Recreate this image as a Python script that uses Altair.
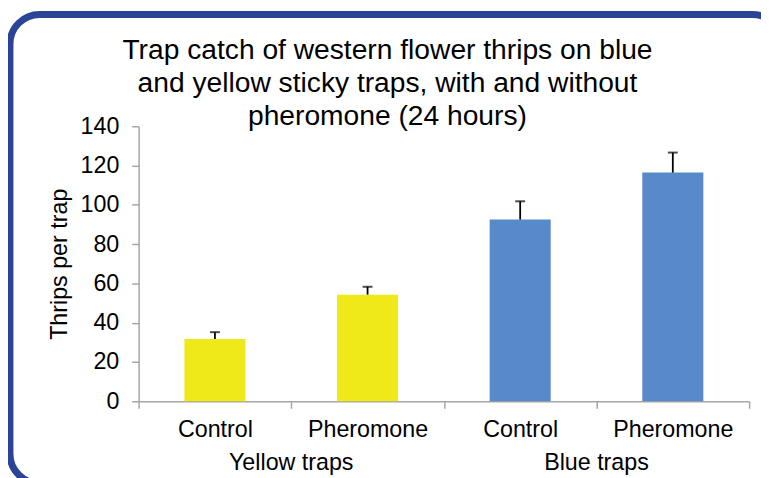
import altair as alt
import pandas as pd

# ---- data ----
groups = ["Yellow traps", "Yellow traps", "Blue traps", "Blue traps"]
treatments = ["Control", "Pheromone", "Control", "Pheromone"]
means = [31.7, 54.3, 92.5, 116.4]
errors = [3.5, 4.0, 9.3, 10.2]

group_names = ["Yellow traps", "Blue traps"]
group_colors = ["#F0E91A", "#5889C8"]

title_lines = [
    "Trap catch of western flower thrips on blue",
    "and yellow sticky traps, with and without",
    "pheromone (24 hours)",
]
y_title = "Thrips per trap"
y_ticks = [0, 20, 40, 60, 80, 100, 120, 140]

keys = [f"{g}|{t}" for g, t in zip(groups, treatments)]
df = pd.DataFrame({"group": groups, "treatment": treatments, "key": keys,
                   "mean": means, "err": errors})
df["hi"] = df["mean"] + df["err"]

grp_df = pd.DataFrame({
    "group": group_names,
    "key": [k for k, t in zip(keys, treatments) if t == "Pheromone"],
})

FONT = "Liberation Sans"
AXIS_GRAY = "#A6A6A6"
W, H = 617, 278

xscale = alt.Scale(domain=keys, paddingInner=0, paddingOuter=0)
yscale = alt.Scale(domain=[0, 140], nice=False, zero=True)

x_axis = alt.Axis(
    tickBand="extent", labelExpr="split(datum.label, '|')[1]",
    labelAngle=0, labelFont=FONT, labelFontSize=23.5, labelColor="black",
    labelPadding=10, tickSize=7, tickColor=AXIS_GRAY, domainColor=AXIS_GRAY,
    tickWidth=1.5, domainWidth=1.5, labelOverlap=False,
)
y_axis = alt.Axis(
    values=y_ticks, tickCount=8, grid=False, labelFont=FONT, labelFontSize=23.5,
    labelColor="black", labelPadding=13, tickSize=7, tickColor=AXIS_GRAY,
    domainColor=AXIS_GRAY, tickWidth=1.5, domainWidth=1.5, labelOverlap=False,
    titleFont=FONT, titleFontSize=23.5, titleFontWeight="normal",
    titleColor="black", titlePadding=9,
)

def X(**kw):
    return alt.X("key:N", scale=xscale, sort=None, title=None, axis=x_axis, **kw)

base = alt.Chart(df)

bars = base.mark_bar(width=alt.RelativeBandSize(0.4)).encode(
    x=X(),
    y=alt.Y("mean:Q", scale=yscale, title=y_title, axis=y_axis),
    color=alt.Color("group:N", scale=alt.Scale(domain=group_names, range=group_colors),
                    legend=None),
)

err = base.mark_rule(color="black", strokeWidth=1.8).encode(
    x=X(),
    y=alt.Y("mean:Q", scale=yscale, title=y_title, axis=y_axis),
    y2=alt.Y2("hi:Q"),
)

cap = base.mark_tick(color="black", thickness=2, size=10, orient="horizontal").encode(
    x=X(),
    y=alt.Y("hi:Q", scale=yscale, title=y_title, axis=y_axis),
)

grp_labels = alt.Chart(grp_df).mark_text(
    font=FONT, fontSize=23.5, color="black", align="center", baseline="alphabetic"
).encode(
    x=X(bandPosition=0),
    y=alt.value(347),
    text="group:N",
)

one = alt.Data(values=[{"a": 1}])

title = alt.Chart(one).mark_text(
    text=title_lines, font=FONT, fontSize=28.5, lineHeight=33.5, color="black",
    align="center", baseline="alphabetic",
).encode(x=alt.value(251.5), y=alt.value(-68))

frame = alt.Chart(one).mark_rect(
    fill="white", fillOpacity=0, stroke="#2B4496", strokeWidth=7, cornerRadius=30
).encode(
    x=alt.value(-130), x2=alt.value(650), y=alt.value(-113), y2=alt.value(361)
)

chart = alt.layer(frame, title, bars, err, cap, grp_labels).properties(
    width=W, height=H,
    padding={"left": 132, "top": 117, "right": 12, "bottom": 75},
    autosize=alt.AutoSizeParams(type="none"),
    background="white",
).configure_view(stroke=None)

chart.save("out.html", embed_options={"renderer": "svg", "actions": False})
